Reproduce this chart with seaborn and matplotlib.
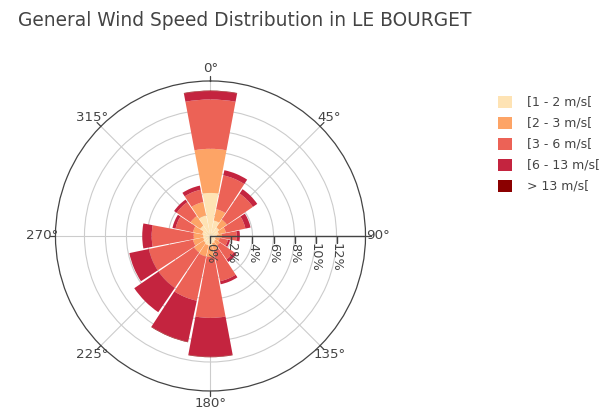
import numpy as np
import matplotlib.pyplot as plt
import seaborn as sns

# wind directions (16 sectors) and speed classes
directions = ['N', 'NNE', 'NE', 'ENE', 'E', 'ESE', 'SE', 'SSE',
              'S', 'SSW', 'SW', 'WSW', 'W', 'WNW', 'NW', 'NNW']
direction_deg = [0, 22.5, 45, 67.5, 90, 112.5, 135, 157.5,
                 180, 202.5, 225, 247.5, 270, 292.5, 315, 337.5]
speed_classes = ['[1 - 2 m/s[', '[2 - 3 m/s[', '[3 - 6 m/s[', '[6 - 13 m/s[', '> 13 m/s[']

# frequency (%) per sector, one list per speed class
freq_1_2 = [4.1, 1.5, 1.0, 0.8, 0.6, 0.5, 0.6, 0.7, 0.9, 0.9, 0.8, 0.7, 0.7, 0.8, 1.2, 2.0]
freq_2_3 = [4.2, 1.1, 0.9, 0.7, 0.5, 0.4, 0.5, 0.7, 1.1, 1.1, 1.1, 1.0, 0.9, 0.9, 1.1, 1.3]
freq_3_6 = [4.7, 3.3, 3.0, 1.9, 1.4, 0.8, 1.6, 3.0, 5.8, 4.3, 4.1, 4.3, 4.0, 1.7, 1.6, 1.2]
freq_6_13 = [0.8, 0.5, 0.5, 0.5, 0.3, 0.2, 0.3, 0.3, 3.7, 4.0, 2.8, 1.9, 0.9, 0.3, 0.3, 0.4]
freq_13 = [0.05, 0.0, 0.0, 0.0, 0.0, 0.0, 0.0, 0.0, 0.05, 0.05, 0.0, 0.0, 0.0, 0.0, 0.0, 0.0]

colors = ['#fee3b4', '#fda466', '#ec6256', '#c4243f', '#8b0000']
radial_ticks = [0, 2, 4, 6, 8, 10, 12]
angle_ticks = [0, 45, 90, 135, 180, 225, 270, 315]

sns.set_theme(style='white')
plt.rcParams['font.family'] = ['DejaVu Sans']
text_col = '#444444'

fig = plt.figure(figsize=(6.11, 4.11), dpi=100)
ax = fig.add_axes([0.0908, 0.0487, 0.5074, 0.7543], projection='polar')
ax.set_theta_zero_location('N')
ax.set_theta_direction(-1)
rmax = 14.76
ax.set_ylim(0, rmax)

theta = np.deg2rad(direction_deg)
width = np.deg2rad(22.5) * 0.94
bottom = np.zeros(len(directions))
for name, vals, c in zip(speed_classes, [freq_1_2, freq_2_3, freq_3_6, freq_6_13, freq_13], colors):
    vals = np.array(vals)
    ax.bar(theta, vals, width=width, bottom=bottom, color=c, linewidth=0,
           label=name, zorder=2)
    bottom += vals

# grid
ax.set_xticks(np.deg2rad(angle_ticks))
ax.set_xticklabels([])
ax.set_yticks(radial_ticks[1:])
ax.set_yticklabels([])
ax.grid(color='#cccccc', linewidth=0.8)
ax.set_axisbelow(True)
ax.spines['polar'].set_color(text_col)
ax.spines['polar'].set_linewidth(0.9)

# radial axis along 90 deg
ax.plot([np.pi / 2, np.pi / 2], [0, rmax], color=text_col, lw=1, zorder=5)
ax.plot(np.full(len(radial_ticks), np.pi / 2), radial_ticks, ls='none', marker=3,
        ms=5, mew=1, color=text_col, zorder=5)
for r in radial_ticks:
    ax.annotate(f'{r}%', xy=(np.pi / 2, r), xytext=(0, -5), textcoords='offset points',
                rotation=-90, ha='center', va='top', fontsize=9.3, color=text_col, zorder=6)

# angular ticks and labels
for a in angle_ticks:
    t = np.deg2rad(a)
    ax.plot([t, t], [rmax, rmax * 1.035], color=text_col, lw=0.9, clip_on=False)
    ax.text(t, rmax * 1.083, f'{a}°', ha='center', va='center', fontsize=9.6, color=text_col)

fig.text(18 / 611, 1 - 21 / 411, 'General Wind Speed Distribution in LE BOURGET',
         ha='left', va='center', fontsize=13.4, color=text_col)

handles, labels = ax.get_legend_handles_labels()
fig.legend(handles, labels, loc='upper left', bbox_to_anchor=(0.797, 0.795), frameon=False,
           fontsize=9, handlelength=1.1, handleheight=1.1, labelspacing=0.62,
           handletextpad=1.2, labelcolor=text_col)

fig.savefig('out.png', dpi=100)
